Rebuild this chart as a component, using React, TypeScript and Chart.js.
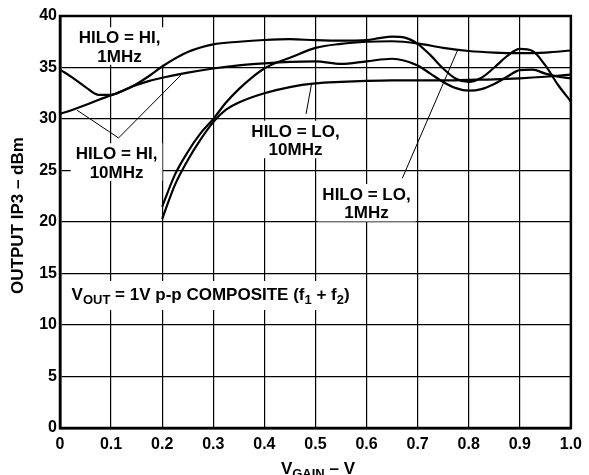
import React, { useEffect, useRef } from 'react';
import { Chart, registerables } from 'chart.js';
Chart.register(...registerables);

const FONT = '"Liberation Sans", Arial, Helvetica, sans-serif';

// HILO = HI, 1MHz
const vgainHi1 = [0, 0.025, 0.05, 0.075, 0.1, 0.125, 0.15, 0.175, 0.2, 0.25, 0.3, 0.35, 0.4, 0.45, 0.5, 0.55, 0.6, 0.625, 0.65, 0.675, 0.7, 0.725, 0.75, 0.775, 0.8, 0.825, 0.85, 0.875, 0.9, 0.925, 0.95, 0.975, 1.0];
const ip3Hi1 = [34.8, 34.0, 33.1, 32.35, 32.35, 32.8, 33.4, 34.2, 35.1, 36.5, 37.25, 37.5, 37.67, 37.75, 37.65, 37.6, 37.65, 37.85, 38.0, 37.9, 37.3, 36.2, 34.9, 33.9, 33.6, 34.0, 35.0, 36.1, 36.8, 36.6, 35.2, 33.3, 31.7];

// HILO = HI, 10MHz
const vgainHi10 = [0, 0.025, 0.05, 0.075, 0.1, 0.125, 0.15, 0.175, 0.2, 0.25, 0.3, 0.35, 0.4, 0.45, 0.5, 0.55, 0.6, 0.65, 0.7, 0.725, 0.75, 0.775, 0.8, 0.825, 0.85, 0.875, 0.9, 0.925, 0.95, 0.975, 1.0];
const ip3Hi10 = [30.5, 30.9, 31.35, 31.85, 32.3, 32.8, 33.3, 33.7, 34.0, 34.5, 34.9, 35.2, 35.4, 35.55, 35.6, 35.35, 35.6, 35.85, 35.2, 34.4, 33.6, 33.0, 32.75, 32.9, 33.4, 34.1, 34.75, 34.8, 34.4, 34.1, 33.95];

// HILO = LO, 1MHz
const vgainLo1 = [0.2, 0.225, 0.25, 0.275, 0.3, 0.325, 0.35, 0.375, 0.4, 0.425, 0.45, 0.5, 0.55, 0.6, 0.65, 0.7, 0.75, 0.8, 0.85, 0.9, 0.95, 1.0];
const ip3Lo1 = [21.5, 24.6, 26.8, 28.6, 30.0, 31.6, 32.9, 34.0, 34.9, 35.5, 35.95, 36.9, 37.3, 37.5, 37.55, 37.35, 36.9, 36.6, 36.45, 36.4, 36.45, 36.65];

// HILO = LO, 10MHz
const vgainLo10 = [0.2, 0.225, 0.25, 0.275, 0.3, 0.325, 0.35, 0.4, 0.45, 0.5, 0.55, 0.6, 0.65, 0.7, 0.75, 0.8, 0.85, 0.9, 0.95, 1.0];
const ip3Lo10 = [20.3, 23.6, 26.0, 28.0, 29.7, 30.9, 31.6, 32.5, 33.1, 33.45, 33.6, 33.7, 33.75, 33.75, 33.75, 33.8, 33.85, 33.95, 34.1, 34.3];

const xTickLabels = ['0', '0.1', '0.2', '0.3', '0.4', '0.5', '0.6', '0.7', '0.8', '0.9', '1.0'];
const yTickLabels = ['0', '5', '10', '15', '20', '25', '30', '35', '40'];

// Text annotations: [v, value] anchor of first line baseline (centre), lines
const LABELS = [
  { at: [0.1165, 37.35], lines: ['HILO = HI,', '1MHz'] },
  { at: [0.1107, 26.09], lines: ['HILO = HI,', '10MHz'] },
  { at: [0.461, 28.28], lines: ['HILO = LO,', '10MHz'] },
  { at: [0.6, 22.14], lines: ['HILO = LO,', '1MHz'] },
];
const POINTERS = [
  [[0.1146, 28.16], [0.0336, 30.85]],
  [[0.1146, 28.16], [0.2388, 34.37]],
  [[0.4816, 30.49], [0.4922, 33.35]],
  [[0.67, 24.24], [0.778, 36.65]],
];
const VOUT_AT = [0.0227, 12.43];
const VOUT_PARTS: [string, boolean][] = [['V', false], ['OUT', true], [' = 1V p-p COMPOSITE (f', false], ['1', true], [' + f', false], ['2', true], [')', false]];
const XTITLE_PARTS: [string, boolean][] = [['V', false], ['GAIN', true], [' \u2013 V', false]];
const YTITLE = 'OUTPUT IP3 \u2013 dBm';

const MAIN = 17;
const SUB = 13;

function richWidth(ctx: CanvasRenderingContext2D, parts: [string, boolean][]) {
  let w = 0;
  for (const [t, s] of parts) {
    ctx.font = `bold ${s ? SUB : MAIN}px ${FONT}`;
    w += ctx.measureText(t).width;
  }
  return w;
}
function drawRich(ctx: CanvasRenderingContext2D, parts: [string, boolean][], x: number, y: number) {
  let cx = x;
  ctx.textAlign = 'left';
  ctx.textBaseline = 'alphabetic';
  for (const [t, s] of parts) {
    ctx.font = `bold ${s ? SUB : MAIN}px ${FONT}`;
    ctx.fillText(t, cx, s ? y + 4 : y);
    cx += ctx.measureText(t).width;
  }
}

const annotPlugin = {
  id: 'annot',
  beforeDatasetsDraw(chart: any) {
    const { ctx, scales } = chart;
    const xs = scales.x, ys = scales.y;
    ctx.save();
    ctx.strokeStyle = '#000';
    ctx.lineWidth = 1;
    for (const [a, b] of POINTERS) {
      ctx.beginPath();
      ctx.moveTo(xs.getPixelForValue(a[0]), ys.getPixelForValue(a[1]));
      ctx.lineTo(xs.getPixelForValue(b[0]), ys.getPixelForValue(b[1]));
      ctx.stroke();
    }
    const lh = 18.5;
    for (const l of LABELS) {
      const cx = xs.getPixelForValue(l.at[0]);
      const by = ys.getPixelForValue(l.at[1]);
      ctx.font = `bold ${MAIN}px ${FONT}`;
      const w = Math.max(...l.lines.map((t) => ctx.measureText(t).width));
      const top = by - 12 - 4;
      const bottom = by + lh * (l.lines.length - 1) + 3;
      ctx.fillStyle = '#fff';
      ctx.fillRect(cx - w / 2 - 5, top, w + 10, bottom - top);
      ctx.fillStyle = '#000';
      ctx.textAlign = 'center';
      ctx.textBaseline = 'alphabetic';
      l.lines.forEach((t, i) => ctx.fillText(t, cx, by + i * lh));
    }
    // VOUT label
    {
      const x0 = xs.getPixelForValue(VOUT_AT[0]);
      const by = ys.getPixelForValue(VOUT_AT[1]);
      const w = richWidth(ctx, VOUT_PARTS);
      ctx.fillStyle = '#fff';
      ctx.fillRect(x0 - 5, by - 19, w + 10, 29);
      ctx.fillStyle = '#000';
      drawRich(ctx, VOUT_PARTS, x0, by);
    }
    ctx.restore();
  },
  afterDatasetsDraw(chart: any) {
    const { ctx, chartArea: a } = chart;
    ctx.save();
    ctx.strokeStyle = '#000';
    ctx.lineWidth = 2.5;
    ctx.strokeRect(a.left, a.top, a.right - a.left, a.bottom - a.top);
    ctx.restore();
  },
  afterDraw(chart: any) {
    const { ctx, chartArea: a } = chart;
    ctx.save();
    ctx.fillStyle = '#000';
    // x title
    const w = richWidth(ctx, XTITLE_PARTS);
    const cx = (a.left + a.right) / 2 + 2.5;
    drawRich(ctx, XTITLE_PARTS, cx - w / 2, a.bottom + 46);
    // y title
    ctx.translate(a.left - 36.7, (a.top + a.bottom) / 2 - 6.5);
    ctx.rotate(-Math.PI / 2);
    ctx.font = `bold ${MAIN}px ${FONT}`;
    ctx.textAlign = 'center';
    ctx.textBaseline = 'alphabetic';
    ctx.fillText(YTITLE, 0, 0);
    ctx.restore();
  },
};

function series(xv: number[], yv: number[]) {
  return {
    data: xv.map((v, i) => ({ x: v, y: yv[i] })),
    borderColor: '#000',
    borderWidth: 2.2,
    pointRadius: 0,
    showLine: true,
    fill: false,
    cubicInterpolationMode: 'monotone' as const,
  };
}

export default function App() {
  const ref = useRef<HTMLCanvasElement>(null);
  useEffect(() => {
    if (!ref.current) return;
    const chart = new Chart(ref.current, {
      type: 'scatter',
      data: {
        datasets: [
          series(vgainHi1, ip3Hi1),
          series(vgainHi10, ip3Hi10),
          series(vgainLo1, ip3Lo1),
          series(vgainLo10, ip3Lo10),
        ],
      },
      options: {
        animation: false,
        responsive: false,
        devicePixelRatio: 1,
        layout: { padding: { top: 16, right: 14, left: 0, bottom: 0 } },
        plugins: { legend: { display: false }, tooltip: { enabled: false } },
        scales: {
          x: {
            type: 'linear',
            min: 0,
            max: 1,
            afterFit: (s: any) => { s.height = 47; },
            ticks: {
              stepSize: 0.1,
              color: '#000',
              padding: 7,
              font: { family: FONT, size: 16, weight: 'bold' },
              maxRotation: 0,
              callback: (_v: any, i: number) => xTickLabels[i],
            },
            grid: { color: '#000', lineWidth: 1.2, drawTicks: false },
            border: { display: true, color: '#000', width: 2.5 },
          },
          y: {
            type: 'linear',
            min: 0,
            max: 40,
            afterFit: (s: any) => { s.width = 60; },
            ticks: {
              stepSize: 5,
              color: '#000',
              padding: 3,
              font: { family: FONT, size: 16, weight: 'bold' },
              callback: (_v: any, i: number) => yTickLabels[i],
            },
            grid: { color: '#000', lineWidth: 1.2, drawTicks: false },
            border: { display: true, color: '#000', width: 2.5 },
          },
        },
      },
      plugins: [annotPlugin],
    });
    return () => chart.destroy();
  }, []);
  return (
    <div style={{ position: 'absolute', left: 0, top: 0, width: 589, height: 475, background: '#fff' }}>
      <canvas ref={ref} width={589} height={475} />
    </div>
  );
}
